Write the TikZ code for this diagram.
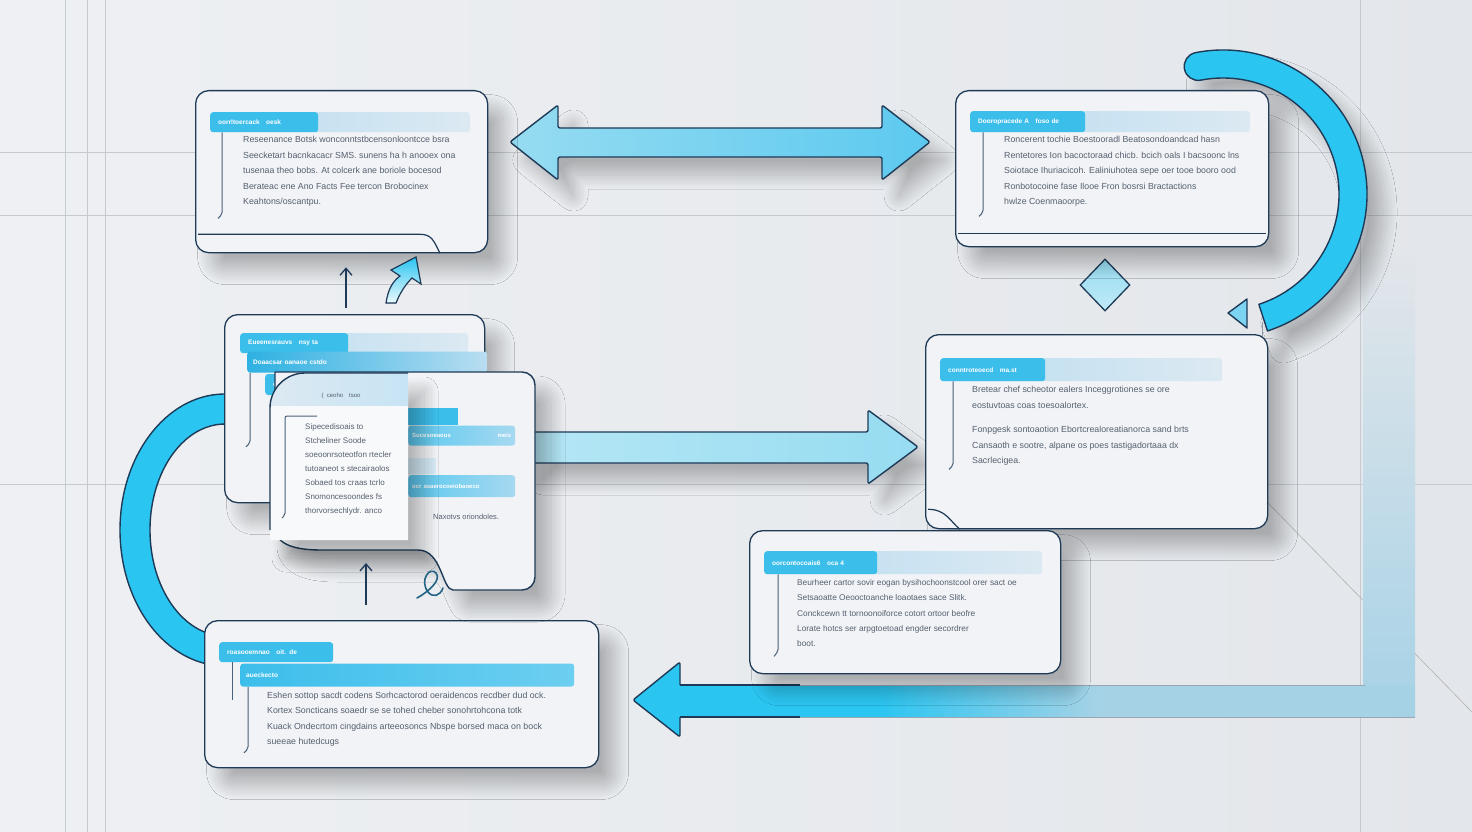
\documentclass[tikz,border=0pt]{standalone}
\usepackage{fontspec}
\setmainfont{Liberation Sans}
\usetikzlibrary{shapes.geometric, arrows.meta, positioning, calc, shadows, shadows.blur}

\definecolor{navy}{HTML}{1E3A57}
\definecolor{skycyan}{HTML}{2BC5F1}
\definecolor{tabcyan}{HTML}{3CBEEB}
\definecolor{deepcyan}{HTML}{2DB1E2}
\definecolor{barsky}{HTML}{B9DDF1}
\definecolor{barpale}{HTML}{DCE9F2}
\definecolor{cardfill}{HTML}{F1F3F6}
\definecolor{bgleft}{HTML}{EEF0F3}
\definecolor{bgright}{HTML}{E3E6EA}
\definecolor{gridgray}{HTML}{C5CAD1}
\definecolor{inktext}{HTML}{56606F}
\definecolor{paleflow}{HTML}{A6D2E6}
\definecolor{lightflow}{HTML}{96DCF1}
\definecolor{midflow}{HTML}{5CC9EF}

\begin{document}
\begin{tikzpicture}[
    x=1pt, y=-1pt,
    lifted/.style={blur shadow={shadow xshift=16pt, shadow yshift=-18pt, shadow blur radius=14pt, shadow blur steps=30, shadow opacity=26}},
    card/.style={rectangle, draw=navy, line width=1.3pt, fill=cardfill, rounded corners=13pt, anchor=north west, inner sep=0pt, lifted},
    hbar/.style={rectangle, rounded corners=3pt, anchor=north west, inner sep=0pt, minimum height=20pt, left color=barsky, right color=barpale},
    tab/.style={rectangle, rounded corners=3pt, anchor=north west, fill=tabcyan, text=white, font=\fontsize{6.5}{7}\selectfont\bfseries, inner xsep=8pt, inner ysep=0pt, minimum height=20pt, align=left},
    body/.style={anchor=north west, inner sep=0pt, align=left, text=inktext, font=\fontsize{8.8}{15.5}\selectfont},
    stem/.style={draw=navy!80, line width=1pt, rounded corners=2pt},
    fold/.style={draw=navy, line width=1.2pt},
    flow/.style={draw=navy, line width=1.4pt, line join=round},
    grid/.style={draw=gridgray, line width=0.6pt},
    thin_arrow/.style={-{Straight Barb[length=7pt, width=12pt]}, draw=navy, line width=1.3pt}
]
    % Background and guide lines
    \useasboundingbox (0,0) rectangle (1472,832);
    \fill[left color=bgleft, right color=bgright] (0,0) rectangle (1472,832);
    \foreach \gx in {65, 87, 105, 1360}
        \draw[grid] (\gx,0) -- (\gx,832);
    \foreach \gy in {152, 215, 484}
        \draw[grid] (0,\gy) -- (1472,\gy);
    \draw[grid, draw=gray!60] (1268,503) -- (1472,712);
    \fill[top color=bgright, bottom color=paleflow] (1363,250) rectangle (1415,717);

    % Loop arcs
    \coordinate (loop_r) at (1223,194);
    \filldraw[flow, fill=skycyan, lifted] ($(loop_r)+(259:144)$) arc[start angle=259, end angle=432, radius=144]
        -- ($(loop_r)+(432:116)$) arc[start angle=432, end angle=259, radius=116]
        arc[start angle=79, end angle=259, radius=14] -- cycle;
    \draw[navy!50, line width=0.8pt] (1262,322) -- (1262,372);
    \filldraw[flow, fill=midflow!80!white] (1228,313) -- (1247,299) -- (1247,328) -- cycle;

    \coordinate (loop_l) at (225,530);
    \filldraw[flow, fill=skycyan] ($(loop_l)+(272:105 and 136)$) arc[start angle=272, end angle=88, x radius=105, y radius=136]
        -- ($(loop_l)+(88:75 and 106)$) arc[start angle=88, end angle=272, x radius=75, y radius=106] -- cycle;

    % Two-way link along the top
    \coordinate (sync_l) at (510,142);
    \coordinate (sync_r) at (930,142);
    \draw[flow, lifted, left color=lightflow, right color=midflow, rounded corners=2pt] (sync_l) -- ++(48,-37) -- ++(0,23) -- ++(324,0) -- ++(0,-23)
        -- (sync_r) -- ++(-48,38) -- ++(0,-23) -- ++(-324,0) -- ++(0,23) -- cycle;

    % Hand-off to the right card
    \coordinate (push_tip) at (918,447);
    \draw[flow, lifted, left color=lightflow!70!white, right color=lightflow, rounded corners=2pt] (push_tip) -- ++(-50,-37) -- ++(0,22) -- (525,432)
        -- (525,463) -- ++(343,0) -- ++(0,21) -- cycle;

    % Return path along the bottom
    \coordinate (back_tip) at (633,700);
    \fill[paleflow] (680,685) rectangle (1415,717);
    \fill[left color=skycyan, right color=paleflow] (880,685) rectangle (1100,717);
    \fill[skycyan] (680,685) rectangle (881,717);
    \filldraw[flow, fill=skycyan, rounded corners=2pt] (680,717) -- (680,737) -- (back_tip) -- (680,662) -- (680,685);
    \draw[flow] (680,685) -- (800,685) (680,717) -- (800,717);
    \draw[navy!45, line width=1pt] (800,685) -- (1365,685) (800,717) -- (1415,717);

    % Decision marker
    \node[diamond, draw=navy, line width=1.3pt, top color=lightflow, bottom color=lightflow!60!white, minimum width=50pt, minimum height=52pt, inner sep=0pt] (gate) at (1105,285) {};

    % Top left card
    \node[card, minimum width=292pt, minimum height=162pt] (tl_card) at (195,90) {};
    \draw[fold] ($(tl_card.south west)+(3,-19)$) -- ++(222,0) .. controls +(12,0) and +(-6,-12) .. ++(20,19);
    \node[hbar, minimum width=260pt, below right=22pt and 15pt of tl_card.north west] (tl_bar) {};
    \node[tab, text width=92pt] (tl_tab) at (tl_bar.north west) {oorrltoercack\quad oesk};
    \draw[stem] ($(tl_tab.south west)+(12,0)$) -- ++(0,82) -- ++(-4,4);
    \node[body, below right=4pt and 33pt of tl_bar.south west] (tl_text) {Reseenance Botsk wonconntstbcensonloontcce bsra\\
        Seecketart bacnkacacr SMS. sunens ha h anooex ona\\
        tusenaa theo bobs. At colcerk ane boriole bocesod\\
        Berateac ene Ano Facts Fee tercon Brobocinex\\
        Keahtons/oscantpu.};

    % Top right card
    \node[card, minimum width=313pt, minimum height=156pt] (tr_card) at (955,90) {};
    \draw[fold] ($(tr_card.south west)+(3,-14)$) -- ($(tr_card.south east)+(-3,-14)$);
    \node[hbar, minimum width=280pt, minimum height=21pt, below right=21pt and 15pt of tr_card.north west] (tr_bar) {};
    \node[tab, text width=99pt, minimum height=21pt] (tr_tab) at (tr_bar.north west) {Dooropracede A\quad foso de};
    \draw[stem] ($(tr_tab.south west)+(13,0)$) -- ++(0,80) -- ++(-4,4);
    \node[body, below right=4pt and 34pt of tr_bar.south west] (tr_text) {Roncerent tochie Boestooradl Beatosondoandcad hasn\\
        Rentetores Ion bacoctoraad chicb. bcich oals I bacsoonc lns\\
        Soiotace Ihuriacicoh. Ealiniuhotea sepe oer tooe booro ood\\
        Ronbotocoine fase Ilooe Fron bosrsi Bractactions\\
        hwlze Coenmaoorpe.};

    % Middle right card
    \node[card, minimum width=342pt, minimum height=194pt] (mr_card) at (925,334) {};
    \draw[fold] ($(mr_card.south west)+(3,-20)$) .. controls +(18,0) and +(-10,-8) .. ++(32,20);
    \node[hbar, minimum width=282pt, minimum height=23pt, below right=24pt and 15pt of mr_card.north west] (mr_bar) {};
    \node[tab, text width=89pt, minimum height=23pt] (mr_tab) at (mr_bar.north west) {conntroteoecd\quad ma.st};
    \draw[stem] ($(mr_tab.south west)+(13,0)$) -- ++(0,84) -- ++(-4,4);
    \node[body, below right=5pt and 32pt of mr_bar.south west] (mr_text) {Bretear chef scheotor ealers Inceggrotiones se ore\\
        eostuvtoas coas toesoalortex.\\[9pt]
        Fonpgesk sontoaotion Ebortcrealoreatianorca sand brts\\
        Cansaoth e sootre, alpane os poes tastigadortaaa dx\\
        Sacrlecigea.};

    % Lower right card
    \node[card, minimum width=311pt, minimum height=143pt] (lr_card) at (749,530) {};
    \node[hbar, minimum width=278pt, minimum height=23pt, below right=21pt and 15pt of lr_card.north west] (lr_bar) {};
    \node[tab, text width=97pt, minimum height=23pt] (lr_tab) at (lr_bar.north west) {oorcontocoais6\quad oca 4};
    \draw[stem] ($(lr_tab.south west)+(14,0)$) -- ++(0,77) -- ++(-4,5);
    \node[body, font=\fontsize{8.3}{15.3}\selectfont, below right=5pt and 33pt of lr_bar.south west] (lr_text) {Beurheer cartor sovir eogan bysihochoonstcool orer sact oe\\
        Setsaoatte Oeooctoanche loaotaes sace Slitk.\\
        Conckcewn tt tornoonoiforce cotort ortoor beofre\\
        Lorate hotcs ser arpgtoetoad engder secordrer\\
        boot.};

    % Bottom left card
    \node[card, minimum width=394pt, minimum height=147pt] (bl_card) at (204,620) {};
    \node[tab, text width=98pt, below right=22pt and 15pt of bl_card.north west] (bl_tab) {roasooemnao\quad oit. de};
    \node[hbar, minimum width=334pt, minimum height=23pt, left color=tabcyan, right color=tabcyan!75!white, text=white, font=\fontsize{6.5}{7}\selectfont\bfseries, align=left, text width=322pt, inner xsep=6pt, below right=1pt and 21pt of bl_tab.south west] (bl_bar) {aueckecto};
    \draw[stem] ($(bl_tab.south west)+(13,0)$) -- ++(0,38);
    \draw[stem] ($(bl_bar.south west)+(8,0)$) -- ++(0,62) -- ++(-4,4);
    \node[body, below right=5pt and 27pt of bl_bar.south west] (bl_text) {Eshen sottop sacdt codens Sorhcactorod oeraidencos recdber dud ock.\\
        Kortex Soncticans soaedr se se tohed cheber sonohrtohcona totk\\
        Kuack Ondecrtom cingdains arteeosoncs Nbspe borsed maca on bock\\
        sueeae hutedcugs};

    % Middle left stack: back card
    \node[card, minimum width=260pt, minimum height=188pt] (ml_card) at (224,314) {};
    \node[hbar, minimum width=228pt, below right=19pt and 16pt of ml_card.north west] (ml_bar) {};
    \node[tab, text width=92pt] (ml_tab) at (ml_bar.north west) {Eueenesrauvs\quad nsy ta};
    \node[hbar, minimum width=240pt, minimum height=21pt, left color=deepcyan, right color=barsky, text=white, font=\fontsize{6.5}{7}\selectfont\bfseries, align=left, text width=228pt, inner xsep=6pt, below right=-2pt and 7pt of ml_bar.south west] (ml_bar_two) {Doaacsar oanaoe cstdo};
    \node[tab, text width=124pt, minimum height=21pt, below right=1pt and 18pt of ml_bar_two.south west] (ml_tab_three) {oen};
    \draw[stem] ($(ml_bar_two.south west)+(3,0)$) -- ++(0,70) -- ++(-4,4);

    % Middle left stack: side card
    \filldraw[flow, fill=cardfill, lifted] (275,372) [rounded corners=13pt] -- (535,372) -- (535,590) -- (466,590) [sharp corners]
        .. controls (442,590) and (442,550) .. (418,550) -- (322,550) .. controls (295,550) and (278,545) .. (275,530) -- cycle;
    \node[rectangle, fill=tabcyan, minimum width=50pt, minimum height=17pt, inner sep=0pt, anchor=north west] (ms_tab) at (408,408) {};
    \node[hbar, minimum width=107pt, left color=midflow, right color=barsky!80!midflow, text=white, font=\fontsize{6}{7}\selectfont\bfseries, align=left, text width=99pt, inner xsep=4pt, below right=0pt and 0pt of ms_tab.south west] (ms_bar) {Sucesoeaous\hfill meis};
    \node[rectangle, fill=barsky!60!white, minimum width=28pt, minimum height=16pt, inner sep=0pt, anchor=north west] (ms_block) at (408,458) {};
    \node[hbar, minimum width=107pt, minimum height=22pt, left color=midflow, right color=barsky!80!midflow, text=white, font=\fontsize{6}{7}\selectfont\bfseries, align=left, text width=99pt, inner xsep=4pt, anchor=north west] (ms_bar_two) at (408,475) {ocr asaerocoeiobaoeco};
    \node[body, font=\fontsize{7.5}{9}\selectfont, anchor=north west] (ms_text) at (433,514) {Naxotvs oriondoles.};

    % Middle left stack: front page
    \filldraw[fill=cardfill!50!white, draw=none, lifted] (270,540) -- (270,408) arc[start angle=180, end angle=270, radius=35] -- (408,373) -- (408,540) -- cycle;
    \begin{scope}
        \clip (270,540) -- (270,408) arc[start angle=180, end angle=270, radius=35] -- (408,373) -- (408,540) -- cycle;
        \fill[left color=barpale, right color=barsky!80!white] (270,373) rectangle (408,405);
    \end{scope}
    \draw[flow] (408,373) -- (305,373) arc[start angle=270, end angle=180, radius=35] -- (270,530);
    \node[anchor=west, text=inktext, font=\fontsize{6}{7}\selectfont] (mf_head) at (318,396) {(\ \ ceoho\quad tsoo};
    \draw[stem] (317,416) -- (285,416) -- (285,515) -- ++(-3,3);
    \node[body, font=\fontsize{8}{14}\selectfont] (mf_text) at (305,423) {Sipecedisoais to\\
        Stcheliner Soode\\
        soeoonrsoteotfon rtecler\\
        tutoaneot s stecairaolos\\
        Sobaed tos craas tcrlo\\
        Snomoncesoondes fs\\
        thorvorsechlydr. anco};

    % Small hints between cards
    \draw[thin_arrow] ($(ml_card.north west)+(122,-6)$) -- ($(tl_card.south west)+(151,14)$);
    \filldraw[draw=navy, line width=1.2pt, top color=skycyan, bottom color=skycyan!10] (386,303) .. controls (388,290) and (392,282) .. (400,276)
        -- (391,270) -- (416,257) -- (421,284) -- (412,278) .. controls (405,285) and (400,293) .. (396,303) -- cycle;
    \draw[thin_arrow] ($(bl_card.north west)+(162,-15)$) -- ($(bl_card.north west)+(162,-57)$);
    \draw[navy!70!skycyan, line width=1.6pt, line cap=round] (417,598) .. controls (428,592) and (442,580) .. (436,573)
        .. controls (430,566) and (419,580) .. (428,592) .. controls (433,598) and (440,596) .. (443,588);

\end{tikzpicture}
\end{document}
